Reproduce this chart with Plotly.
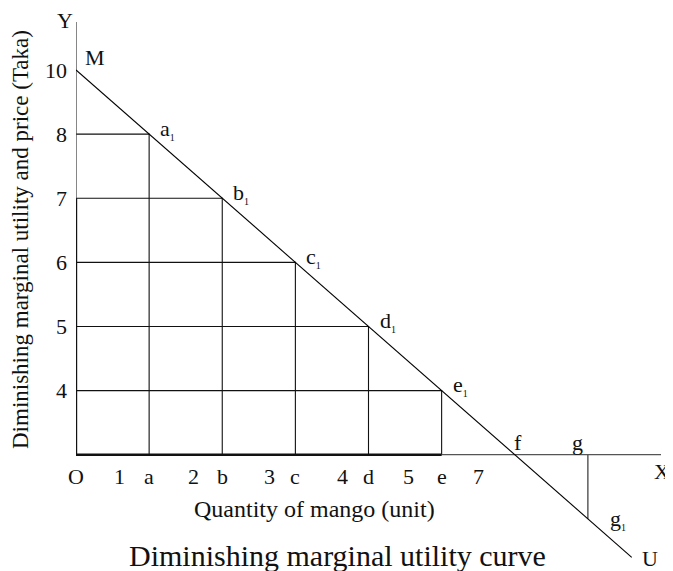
import plotly.graph_objects as go

# ---------------- data (schematic diagram values) ----------------
# Price / marginal utility labels shown on the Y axis (Taka), top to bottom
price_labels = ["10", "8", "7", "6", "5", "4"]
# schematic level of each price label on the diagram's vertical scale
price_levels = [6, 5, 4, 3, 2, 1]

# Quantity points on the X axis (schematic unit steps)
qty_letters = ["a", "b", "c", "d", "e"]
qty_steps = [1, 2, 3, 4, 5]

# X tick labels under the axis
x_tick_text = ["O", "1", "a", "2", "b", "3", "c", "4", "d", "5", "e", "7"]
x_tick_vals = [0, 0.6, 1, 1.6, 2, 2.65, 3, 3.65, 4, 4.55, 5, 5.5]

# Marginal utility curve points: M, a1..e1, f, g1, U
mu_names = ["M", "a1", "b1", "c1", "d1", "e1", "f", "g1", "U"]
mu_qty = [0, 1, 2, 3, 4, 5, 6, 7, 7.6]
mu_level = [6, 5, 4, 3, 2, 1, 0, -1, -1.6]

g_qty = 7
x_axis_end = 8.0
y_axis_end = 6.75

FONT = "Liberation Serif, Times New Roman, serif"
INK = "#111"

fig = go.Figure()

def seg(x, y, color="#111", width=1.1):
    fig.add_trace(go.Scatter(x=x, y=y, mode="lines", line=dict(color=color, width=width),
                             hoverinfo="skip", showlegend=False))

# grid rectangles (horizontal from Y axis to point, vertical from point to X axis)
for q, lvl in zip(qty_steps, price_levels[1:]):
    seg([0, q, q], [lvl, lvl, 0])
# g drop line
seg([g_qty, g_qty], [0, mu_level[mu_names.index("g1")]], color="#444", width=1.3)
# axes
seg([0, 0], [0, y_axis_end], color="#444", width=1.3)
seg([0, x_axis_end], [0, 0], color="#555", width=1.3)
# thick outline (O to e, and O up to level of 7)
seg([0, 0, qty_steps[-1]], [price_levels[2], 0, 0], color="#111", width=2.4)
# MU curve
seg(mu_qty, mu_level, color="#000", width=1.1)

ann = []
def A(text, x, y, size=22, **kw):
    d = dict(text=text, x=x, y=y, xref="x", yref="y", showarrow=False,
             font=dict(family=FONT, size=size, color=INK))
    d.update(kw)
    ann.append(d)

SUB = "<sub><span style='font-size:10px'>1</span></sub>"

# y tick labels
for t, lvl in zip(price_labels, price_levels):
    A(t, 0, lvl, xanchor="right", yanchor="middle", xshift=-7)
# x tick labels
for t, v in zip(x_tick_text, x_tick_vals):
    A(t, v, 0, xanchor="center", yanchor="middle", yshift=-22)

# point labels
A("Y", 0, y_axis_end, xanchor="right", yanchor="middle", xshift=-1, yshift=1)
A("M", 0, mu_level[0], xanchor="left", yanchor="middle", xshift=7, yshift=13)
for nm, q, lvl in zip(mu_names[1:6], mu_qty[1:6], mu_level[1:6]):
    A(nm[0] + SUB, q, lvl, xanchor="left", yanchor="middle", xshift=9, yshift=5)
A("f", mu_qty[6], 0, xanchor="center", yanchor="bottom", xshift=3, yshift=-2)
A("g", g_qty, 0, xanchor="center", yanchor="bottom", xshift=-10, yshift=-2)
A("g" + SUB, g_qty, mu_level[7], xanchor="left", yanchor="middle", xshift=20, yshift=-1)
A("U", mu_qty[-1], mu_level[-1], xanchor="left", yanchor="middle", xshift=8, yshift=-1)
A("X", x_axis_end, 0, xanchor="center", yanchor="middle", xshift=1, yshift=-17)

# page is drawn with an 8px body margin: plot area spans page x 76..661, y 20..565
PL, PR, PT, PB = 76, 661, 20, 565
def px_paper(px, py):
    return (px - PL) / (PR - PL), (PB - py) / (PB - PT)

def P(text, px, py, size, **kw):
    x, y = px_paper(px, py)
    d = dict(text=text, x=x, y=y, xref="paper", yref="paper", showarrow=False,
             xanchor="center", yanchor="middle", font=dict(family=FONT, size=size, color=INK))
    d.update(kw)
    ann.append(d)

P("Quantity of mango (unit)", 314, 509, 24)
P("Diminishing marginal utility curve", 337, 555, 30)
P("Diminishing marginal utility and price (Taka)", 20, 240, 23, textangle=-90)

fig.update_layout(
    annotations=ann,
    width=665, height=563,
    margin=dict(l=68, r=12, t=12, b=6),
    paper_bgcolor="white", plot_bgcolor="white",
    xaxis=dict(range=[0, 8.0], visible=False, fixedrange=True),
    yaxis=dict(range=[-1.72, 6.78], visible=False, fixedrange=True),
    showlegend=False,
)

fig.write_html("out.html")
